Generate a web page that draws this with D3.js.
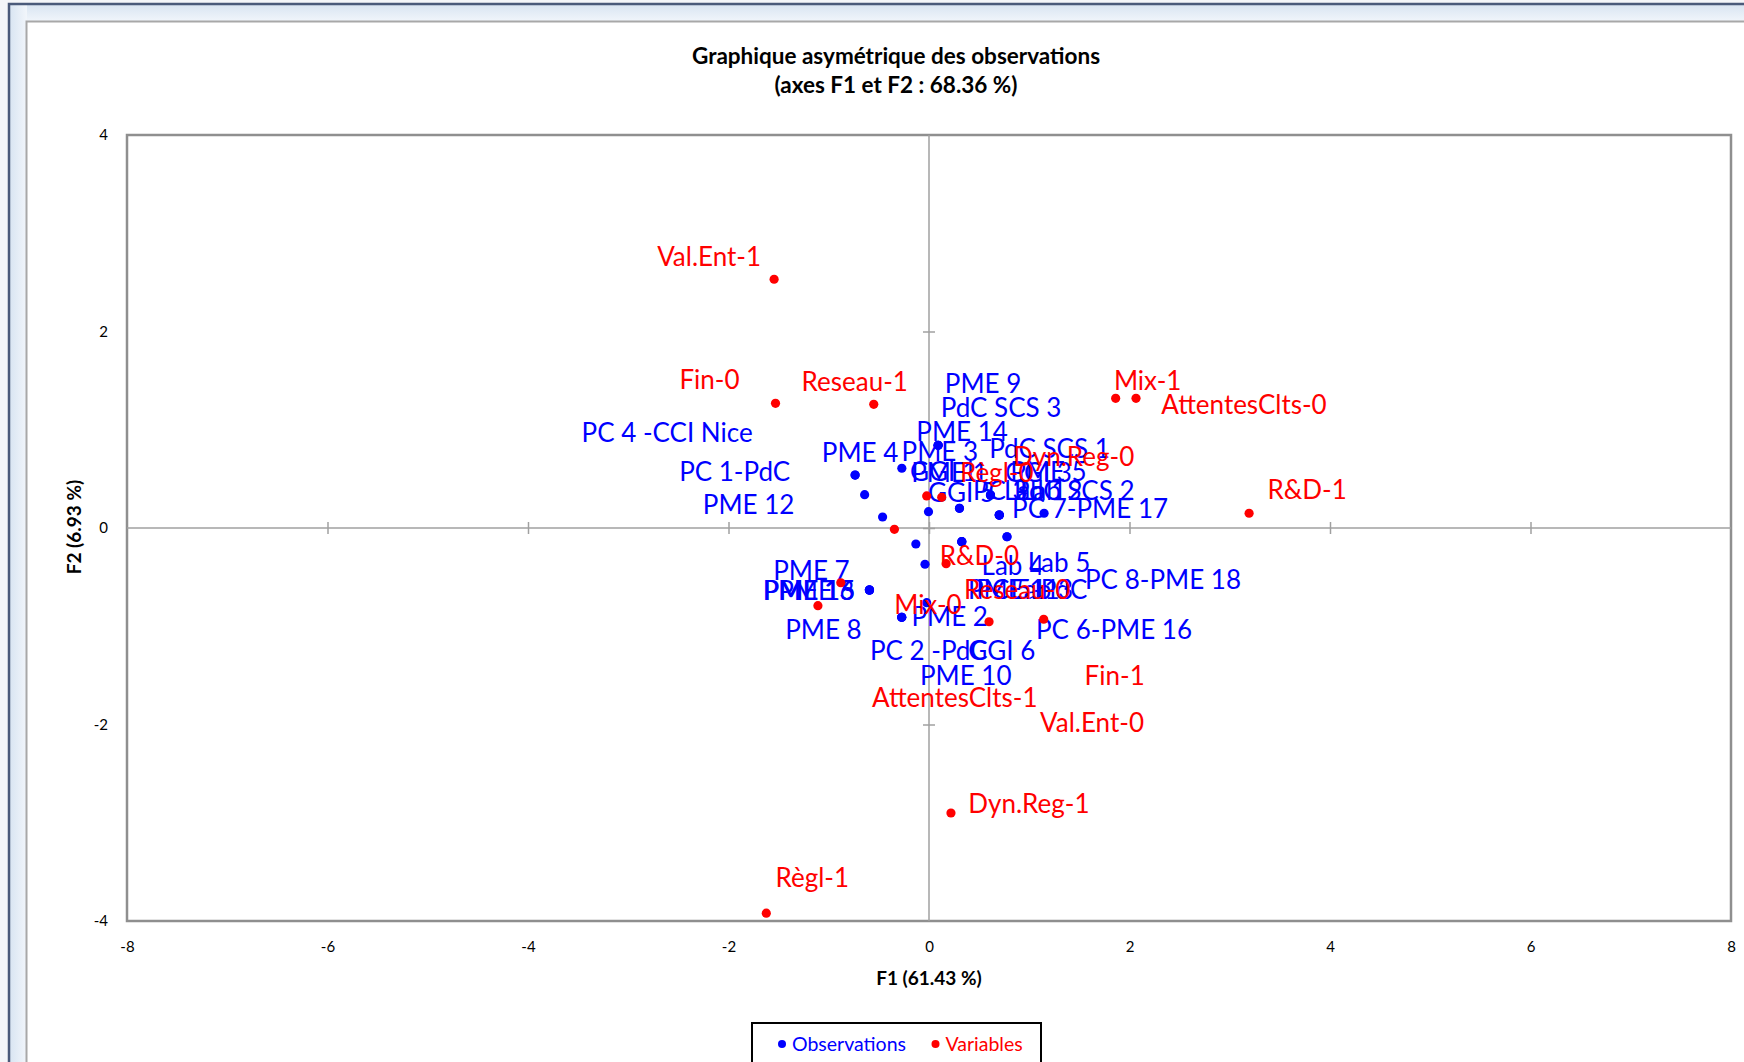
<!DOCTYPE html>
<html><head><meta charset="utf-8">
<script src="https://cdn.jsdelivr.net/npm/d3@7"></script>
<style>
body{margin:0;background:#fff;}
svg{display:block;}
text{font-family:Lato,"Open Sans","DejaVu Sans",sans-serif;}
</style>
</head><body>
<svg id="c" width="1744" height="1062"></svg>
<script>
// ---------- data ----------
const titleLines = ["Graphique asymétrique des observations", "(axes F1 et F2 : 68.36 %)"];
const xAxisTitle = "F1 (61.43 %)";
const yAxisTitle = "F2 (6.93 %)";
const xTicks = [-8, -6, -4, -2, 0, 2, 4, 6, 8];
const yTicks = [-4, -2, 0, 2, 4];
const seriesNames = ["Observations", "Variables"];

// Variables (modalities)
const varNames = ["Val.Ent-1","Val.Ent-0","Fin-0","Fin-1","Reseau-1","Reseau-0","Mix-1","Mix-0",
  "AttentesClts-0","AttentesClts-1","R&D-1","R&D-0","Règl-1","Règl-0","Dyn.Reg-1","Dyn.Reg-0"];
const varF1 = [-1.545, 0.599, -1.531, 1.144, -0.551, 0.171, 1.862, -1.108,
  2.065, -0.880, 3.193, -0.345, -1.623, 0.127, 0.219, -0.023];
const varF2 = [2.532, -0.954, 1.269, -0.929, 1.259, -0.363, 1.320, -0.791,
  1.320, -0.557, 0.150, -0.013, -3.920, 0.312, -2.901, 0.326];

// Observations
const obsNames = ["PME 9","PdC SCS 3","PME 14","PME 3","PME 4","PC 4 -CCI Nice","PC 1-PdC","PME 12","GGI 5",
  "GGI 1","PME 1","PdC SCS 1","PME 5","GGI 3","PdC SCS 2","Lab 1","Lab 2","PC 3","PC 7-PME 17",
  "Lab 4","PC 5-PdC","PME 11","Lab 3","Lab 5","PC 8-PME 18","PC 6-PME 16","PME 7","PME 13","PME 6","PME 15",
  "PME 8","PME 2","PC 2 -PdC","GGI 6","PME 10"];
const obsF1 = [0.091,0.091,0.091,-0.271,-0.737,-0.737,-0.642,-0.463,-0.005,
  0.304,0.304,0.613,0.613,0.613,0.701,0.701,0.701,0.701,1.148,
  -0.131,0.327,0.327,0.327,0.778,0.778,-0.040,-0.594,-0.594,-0.594,-0.594,
  -0.594,-0.023,-0.272,-0.272,-0.272];
const obsF2 = [0.842,0.842,0.842,0.608,0.539,0.539,0.339,0.112,0.166,
  0.200,0.200,0.336,0.336,0.336,0.132,0.132,0.132,0.132,0.150,
  -0.163,-0.139,-0.139,-0.139,-0.089,-0.089,-0.369,-0.631,-0.631,-0.631,-0.631,
  -0.631,-0.760,-0.909,-0.909,-0.909];

// ---------- label layout (pixel offsets of label centre from its point) ----------
const labelOffsets = {
  "Val.Ent-1":[-65,-23],"Fin-0":[-66,-24],"Reseau-1":[-19,-23],"Mix-1":[32,-18],
  "AttentesClts-0":[108,6],"R&D-1":[58,-24],"Dyn.Reg-0":[147,-39],"Règl-0":[55,-25],
  "R&D-0":[85,26],"Reseau-0":[71,26],"Mix-0":[110,-1],"Fin-1":[71,56],
  "AttentesClts-1":[114,115],"Val.Ent-0":[103,101],"Dyn.Reg-1":[78,-9],"Règl-1":[46,-36],
  "PME 9":[45,-62],"PdC SCS 3":[63,-38],"PME 14":[24,-14],"PME 3":[38,-17],
  "PME 4":[5,-22],"PC 4 -CCI Nice":[-188,-42],"PC 1-PdC":[-130,-23],"PME 12":[-134,-12],
  "GGI 5":[33,-19],"GGI 1":[-16,-37],"PME 1":[-10,-36],"PdC SCS 1":[59,-46],
  "PME 5":[58,-23],"GGI 3":[48,-22],"PdC SCS 2":[75,-24],"Lab 1":[36,-24],"Lab 2":[52,-24],"PC 3":[1,-24],
  "PC 7-PME 17":[46,-5],"Lab 4":[97,22],"PC 5-PdC":[70,48],"PME 11":[52,48],"Lab 3":[80,48],
  "Lab 5":[52,26],"PC 8-PME 18":[156,43],"PC 6-PME 16":[189,65],
  "PME 7":[-58,-19],"PME 13":[-61,1],"PME 6":[-53,1],"PME 15":[-60,1],"PME 8":[-46,40],
  "PME 2":[23,14],"PC 2 -PdC":[27,33],"GGI 6":[100,33],"PME 10":[64,58]
};

// ---------- chart ----------
const svg = d3.select("#c");
const W = 1744, H = 1062;
const plot = {left:127, right:1731, top:135, bottom:921};
const blue = "#0000ff", red = "#ff0000";

// window chrome
const defs = svg.append("defs");
const gv = defs.append("linearGradient").attr("id","gv").attr("x1",0).attr("y1",0).attr("x2",0).attr("y2",1);
gv.append("stop").attr("offset","0%").attr("stop-color","#d9e5f2");
gv.append("stop").attr("offset","100%").attr("stop-color","#f2f6fb");
const gh = defs.append("linearGradient").attr("id","gh").attr("x1",0).attr("y1",0).attr("x2",1).attr("y2",0);
gh.append("stop").attr("offset","0%").attr("stop-color","#d9e5f2");
gh.append("stop").attr("offset","100%").attr("stop-color","#f2f6fb");

svg.append("rect").attr("width",W).attr("height",H).attr("fill","#f4f6f9");
svg.append("rect").attr("x",10).attr("y",5).attr("width",W-10).attr("height",17).attr("fill","url(#gv)");
svg.append("rect").attr("x",10).attr("y",5).attr("width",17).attr("height",H-5).attr("fill","url(#gh)");
svg.append("path").attr("d",`M9,${H} L9,4 L${W},4`).attr("fill","none").attr("stroke","#4a5a7a").attr("stroke-width",2.5);
svg.append("rect").attr("x",26.5).attr("y",21.5).attr("width",W+20).attr("height",H+20)
  .attr("fill","#fff").attr("stroke","#a8a8a8").attr("stroke-width",2);

const x = d3.scaleLinear().domain([xTicks[0], xTicks[xTicks.length-1]]).range([plot.left, plot.right]);
const y = d3.scaleLinear().domain([yTicks[0], yTicks[yTicks.length-1]]).range([plot.bottom, plot.top]);

// title
svg.append("g").selectAll("text").data(titleLines).join("text")
  .attr("x", 896).attr("y",(d,i)=>64 + i*29)
  .attr("text-anchor","middle").attr("font-size",22.5).attr("font-weight","bold").attr("fill","#000")
  .text(d=>d);

// plot border
svg.append("rect").attr("x",plot.left).attr("y",plot.top)
  .attr("width",plot.right-plot.left).attr("height",plot.bottom-plot.top)
  .attr("fill","none").attr("stroke","#8f8f8f").attr("stroke-width",2.5);

// zero lines
svg.append("line").attr("x1",x(0)).attr("x2",x(0)).attr("y1",plot.top).attr("y2",plot.bottom)
  .attr("stroke","#a0a0a0").attr("stroke-width",1.5);
svg.append("line").attr("x1",plot.left).attr("x2",plot.right).attr("y1",y(0)).attr("y2",y(0))
  .attr("stroke","#a0a0a0").attr("stroke-width",1.5);

// cross ticks on zero lines
const tx = svg.append("g").attr("transform",`translate(0,${y(0)-6})`)
  .call(d3.axisBottom(x).tickValues(xTicks.slice(1,-1)).tickSize(12).tickFormat(""));
tx.select(".domain").remove();
tx.selectAll("line").attr("stroke","#a0a0a0").attr("stroke-width",1.5);
const ty = svg.append("g").attr("transform",`translate(${x(0)+6},0)`)
  .call(d3.axisLeft(y).tickValues(yTicks.slice(1,-1)).tickSize(12).tickFormat(""));
ty.select(".domain").remove();
ty.selectAll("line").attr("stroke","#a0a0a0").attr("stroke-width",1.5);

// tick labels
const lx = svg.append("g").attr("transform",`translate(0,${plot.bottom})`)
  .call(d3.axisBottom(x).tickValues(xTicks).tickSize(0).tickPadding(20).tickFormat(d=>String(d)));
lx.select(".domain").remove();
lx.selectAll("text").attr("font-size",15).attr("font-family","Lato, sans-serif").attr("fill","#000");
const ly = svg.append("g").attr("transform",`translate(${plot.left},0)`)
  .call(d3.axisLeft(y).tickValues(yTicks).tickSize(0).tickPadding(19).tickFormat(d=>String(d)));
ly.select(".domain").remove();
ly.selectAll("text").attr("font-size",15).attr("font-family","Lato, sans-serif").attr("fill","#000");

// axis titles
svg.append("text").attr("x",929).attr("y",985).attr("text-anchor","middle")
  .attr("font-size",19).attr("font-weight","bold").text(xAxisTitle);
svg.append("text").attr("transform",`translate(81,527) rotate(-90)`).attr("text-anchor","middle")
  .attr("font-size",19).attr("font-weight","bold").text(yAxisTitle);

// data
const obs = obsNames.map((n,i)=>({name:n, f1:obsF1[i], f2:obsF2[i]}));
const vars = varNames.map((n,i)=>({name:n, f1:varF1[i], f2:varF2[i]}));
const LS = 26;

function drawPoints(data, color){
  svg.append("g").selectAll("circle").data(data).join("circle")
    .attr("cx",d=>x(d.f1)).attr("cy",d=>y(d.f2)).attr("r",4.6).attr("fill",color);
}
function drawLabels(data, color){
  svg.append("g").selectAll("text").data(data).join("text")
    .attr("x",d=>x(d.f1) + (labelOffsets[d.name]||[20,-25])[0])
    .attr("y",d=>y(d.f2) + (labelOffsets[d.name]||[20,-25])[1])
    .attr("dy","0.36em").attr("text-anchor","middle")
    .attr("font-size",LS).attr("fill",color).text(d=>d.name);
}
drawPoints(obs, blue);
drawLabels(obs, blue);
drawPoints(vars, red);
drawLabels(vars, red);

// legend
const lg = svg.append("g");
lg.append("rect").attr("x",752).attr("y",1023).attr("width",289).attr("height",60)
  .attr("fill","#fff").attr("stroke","#000").attr("stroke-width",2);
const legendItems = [{name:seriesNames[0], color:blue, cx:782},{name:seriesNames[1], color:red, cx:935.5}];
lg.selectAll("circle").data(legendItems).join("circle")
  .attr("cx",d=>d.cx).attr("cy",1044).attr("r",4).attr("fill",d=>d.color);
lg.selectAll("text").data(legendItems).join("text")
  .attr("x",d=>d.cx+10).attr("y",1050.5).attr("font-size",19.5).attr("fill",d=>d.color).text(d=>d.name);
</script>
</body></html>
